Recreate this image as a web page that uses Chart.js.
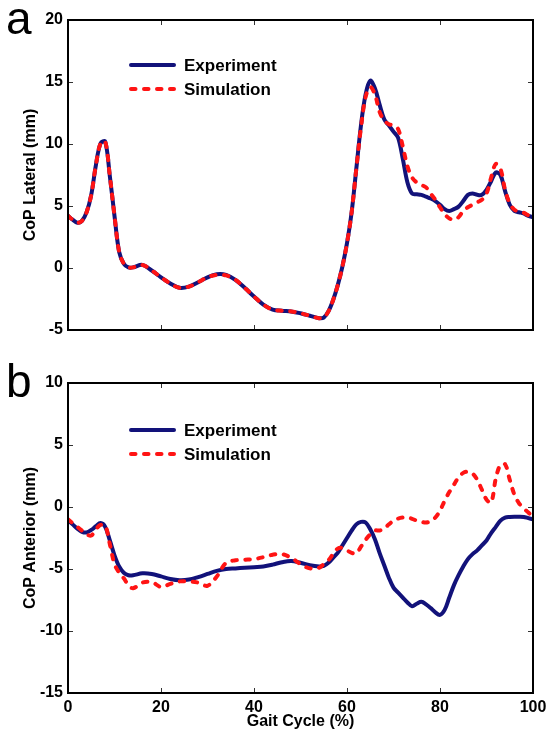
<!DOCTYPE html>
<html>
<head>
<meta charset="utf-8">
<script src="https://cdn.jsdelivr.net/npm/chart.js@4.4.1/dist/chart.umd.min.js"></script>
<style>
	html, body { margin: 0; padding: 0; background: #fff; }
	#wrap { position: relative; width: 549px; height: 735px; }
	#wrap canvas { position: absolute; left: 0; }
	#lateral { top: 0; }
	#anterior { top: 360px; }
</style>
</head>
<body>
<div id="wrap">
	<canvas id="lateral" width="549" height="360"></canvas>
	<canvas id="anterior" width="549" height="375"></canvas>
</div>
<script>
// gait cycle sample points (%)
const gaitPct = [0, 1, 2, 3, 4, 5, 6, 7, 8, 9, 10, 11, 12, 13, 14, 16, 18, 20, 22, 24, 26, 28, 30, 32, 34, 36, 38, 40, 42, 44, 46, 48, 50, 52, 54, 55, 56, 57, 58, 59, 60, 61, 62, 63, 64, 65, 66, 67, 68, 69, 70, 71, 72, 73, 74, 75, 76, 77, 78, 79, 80, 81, 82, 83, 84, 85, 86, 87, 88, 89, 90, 91, 92, 93, 94, 95, 96, 97, 98, 99, 100];

// panel a - CoP lateral (mm)
const lateralExp = [4.2, 3.9, 3.65, 3.8, 4.5, 5.9, 8.3, 10.05, 10.2, 7.4, 4.2, 1.3, 0.35, 0.05, 0.05, 0.25, -0.2, -0.75, -1.25, -1.6, -1.5, -1.15, -0.75, -0.5, -0.55, -0.95, -1.6, -2.3, -2.95, -3.35, -3.45, -3.5, -3.65, -3.85, -4.05, -4.0, -3.5, -2.6, -1.4, 0.1, 2.0, 4.5, 8.0, 11.5, 14.0, 15.1, 14.5, 13.2, 12.0, 11.5, 11.0, 10.5, 8.8, 6.9, 6.0, 5.95, 5.9, 5.75, 5.6, 5.4, 5.1, 4.75, 4.6, 4.75, 4.95, 5.4, 5.9, 6.0, 5.9, 5.9, 6.3, 7.0, 7.7, 7.5, 6.2, 5.1, 4.6, 4.5, 4.4, 4.2, 4.1];
const lateralSim = [4.2, 3.9, 3.65, 3.8, 4.5, 5.9, 8.3, 10.05, 10.2, 7.4, 4.2, 1.3, 0.35, 0.05, 0.05, 0.25, -0.2, -0.75, -1.25, -1.6, -1.5, -1.15, -0.75, -0.55, -0.6, -0.95, -1.6, -2.3, -2.95, -3.35, -3.45, -3.5, -3.65, -3.85, -4.05, -4.0, -3.5, -2.6, -1.4, 0.1, 2.0, 4.5, 8.0, 11.3, 13.8, 14.6, 14.0, 12.6, 11.9, 11.6, 11.5, 11.2, 9.8, 8.2, 7.3, 6.9, 6.7, 6.5, 6.0, 5.5, 4.9, 4.35, 4.0, 3.9, 4.1, 4.6, 4.9, 5.1, 5.3, 5.5, 6.0, 7.3, 8.4, 8.0, 6.3, 5.2, 4.7, 4.55, 4.45, 4.25, 4.1];

// panel b - CoP anterior (mm)
const anteriorExp = [-1.05, -1.4, -1.75, -2.0, -2.05, -1.85, -1.55, -1.3, -1.6, -2.7, -3.9, -4.8, -5.3, -5.5, -5.5, -5.35, -5.4, -5.6, -5.8, -5.9, -5.85, -5.65, -5.4, -5.15, -5.0, -4.95, -4.9, -4.85, -4.8, -4.65, -4.45, -4.35, -4.5, -4.7, -4.8, -4.75, -4.5, -4.1, -3.7, -3.1, -2.5, -1.9, -1.4, -1.2, -1.25, -1.8, -2.6, -3.7, -4.7, -5.7, -6.5, -6.9, -7.3, -7.7, -8.0, -7.8, -7.65, -7.85, -8.15, -8.5, -8.7, -8.3, -7.3, -6.3, -5.5, -4.8, -4.2, -3.8, -3.5, -3.1, -2.7, -2.1, -1.6, -1.1, -0.85, -0.8, -0.78, -0.78, -0.8, -0.9, -1.0];
const anteriorSim = [-1.0, -1.3, -1.6, -1.9, -2.2, -2.3, -1.8, -1.45, -1.5, -3.0, -4.6, -5.3, -5.75, -6.3, -6.55, -6.1, -6.05, -6.45, -6.2, -6.0, -6.0, -6.1, -6.35, -5.6, -4.5, -4.3, -4.25, -4.2, -4.05, -3.85, -3.8, -4.1, -4.6, -4.95, -4.9, -4.6, -4.3, -3.8, -3.35, -3.3, -3.5, -3.7, -3.75, -3.2, -2.65, -2.2, -1.9, -1.9, -1.75, -1.4, -1.1, -0.93, -0.85, -0.85, -0.95, -1.1, -1.2, -1.25, -1.15, -0.85, -0.3, 0.5, 1.2, 1.8, 2.4, 2.75, 2.85, 2.7, 2.2, 1.4, 0.6, 0.35, 2.3, 3.4, 3.45, 2.2, 1.0, 0.3, -0.1, -0.45, -0.8];

const seriesNames = ["Experiment", "Simulation"];
const navy = "#12127a";
const red = "#ff1414";
const fontFamily = "'Liberation Sans', Arial, Helvetica, sans-serif";

Chart.defaults.font.family = fontFamily;
Chart.defaults.font.size = 16;
Chart.defaults.font.weight = "bold";
Chart.defaults.color = "#000";

function points(values) {
	return gaitPct.map((p, i) => ({ x: p, y: values[i] }));
}

// ---------------------------------------- box, inner ticks, legend, letter ----------------------------------------

const framePlugin = {
	id: "frame",
	afterDraw(chart, args, opts) {
		const { ctx, chartArea: a, scales } = chart;
		const x = scales.x;
		const y = scales.y;
		ctx.save();

		ctx.strokeStyle = "#333";
		ctx.lineWidth = 1;
		ctx.beginPath();
		x.ticks.forEach((t) => {
			const px = Math.round(x.getPixelForValue(t.value)) + 0.5;
			if (px <= a.left + 2 || px >= a.right - 2) return;
			ctx.moveTo(px, a.bottom);
			ctx.lineTo(px, a.bottom - 5);
			ctx.moveTo(px, a.top);
			ctx.lineTo(px, a.top + 5);
		});
		y.ticks.forEach((t) => {
			const py = Math.round(y.getPixelForValue(t.value)) + 0.5;
			if (py <= a.top + 2 || py >= a.bottom - 2) return;
			ctx.moveTo(a.left, py);
			ctx.lineTo(a.left + 5, py);
			ctx.moveTo(a.right, py);
			ctx.lineTo(a.right - 5, py);
		});
		ctx.stroke();

		ctx.strokeStyle = "#000";
		ctx.lineWidth = 2;
		ctx.strokeRect(a.left, a.top, a.width, a.height);

		// legend
		ctx.font = "bold 17px " + fontFamily;
		ctx.textBaseline = "middle";
		ctx.textAlign = "left";
		chart.data.datasets.forEach((ds, i) => {
			const ly = opts.legendTop + i * 24;
			ctx.beginPath();
			ctx.strokeStyle = ds.borderColor;
			ctx.lineWidth = ds.borderWidth;
			ctx.lineCap = "round";
			ctx.setLineDash(ds.borderDash || []);
			ctx.moveTo(131, ly);
			ctx.lineTo(174, ly);
			ctx.stroke();
			ctx.setLineDash([]);
			ctx.fillStyle = "#000";
			ctx.fillText(ds.label, 184, ly + 1);
		});

		// panel letter
		ctx.font = "normal 46px " + fontFamily;
		ctx.textBaseline = "alphabetic";
		ctx.fillText(opts.letter, 6, opts.letterBase);

		ctx.restore();
	},
};

function buildPanel(canvasId, expValues, simValues, cfg) {
	return new Chart(document.getElementById(canvasId), {
		type: "line",
		data: {
			datasets: [
				{
					label: seriesNames[0],
					data: points(expValues),
					borderColor: navy,
					borderWidth: 4,
					pointRadius: 0,
					tension: 0.35,
					order: 1,
				},
				{
					label: seriesNames[1],
					data: points(simValues),
					borderColor: red,
					borderWidth: 4,
					borderDash: [4.5, 8.5],
					borderCapStyle: "round",
					pointRadius: 0,
					tension: 0.35,
					order: 0,
				},
			],
		},
		options: {
			responsive: false,
			animation: false,
			layout: {
				padding: { top: cfg.padTop, right: 16, left: 0, bottom: 0 },
			},
			plugins: {
				legend: { display: false },
				tooltip: { enabled: false },
				frame: {
					legendTop: cfg.legendTop,
					letter: cfg.letter,
					letterBase: cfg.letterBase,
				},
			},
			scales: {
				x: {
					type: "linear",
					min: 0,
					max: 100,
					border: { display: false },
					grid: { display: false, drawTicks: false },
					ticks: { stepSize: 20, display: cfg.showX, padding: 5 },
					title: {
						display: cfg.showX,
						text: "Gait Cycle (%)",
						padding: { top: 0, bottom: 4 },
					},
					afterFit(scale) {
						scale.height = cfg.xHeight;
						scale.paddingLeft = 0;
						scale.paddingRight = 0;
					},
				},
				y: {
					min: cfg.yMin,
					max: cfg.yMax,
					border: { display: false },
					grid: { display: false, drawTicks: false },
					ticks: { stepSize: 5, padding: 5 },
					title: {
						display: true,
						text: cfg.yTitle,
						padding: { top: 21, bottom: 0 },
					},
					afterFit(scale) {
						scale.width = 68;
						scale.paddingTop = 0;
						scale.paddingBottom = 0;
					},
				},
			},
		},
		plugins: [framePlugin],
	});
}

// ---------------------------------------- Lateral ----------------------------------------

const graphLateral = buildPanel("lateral", lateralExp, lateralSim, {
	padTop: 20,
	xHeight: 30,
	showX: false,
	yMin: -5,
	yMax: 20,
	yTitle: "CoP Lateral (mm)",
	legendTop: 65,
	letter: "a",
	letterBase: 34,
});

// ---------------------------------------- Anterior ----------------------------------------

const graphAnterior = buildPanel("anterior", anteriorExp, anteriorSim, {
	padTop: 23,
	xHeight: 42,
	showX: true,
	yMin: -15,
	yMax: 10,
	yTitle: "CoP Anterior (mm)",
	legendTop: 70,
	letter: "b",
	letterBase: 37,
});
</script>
</body>
</html>
